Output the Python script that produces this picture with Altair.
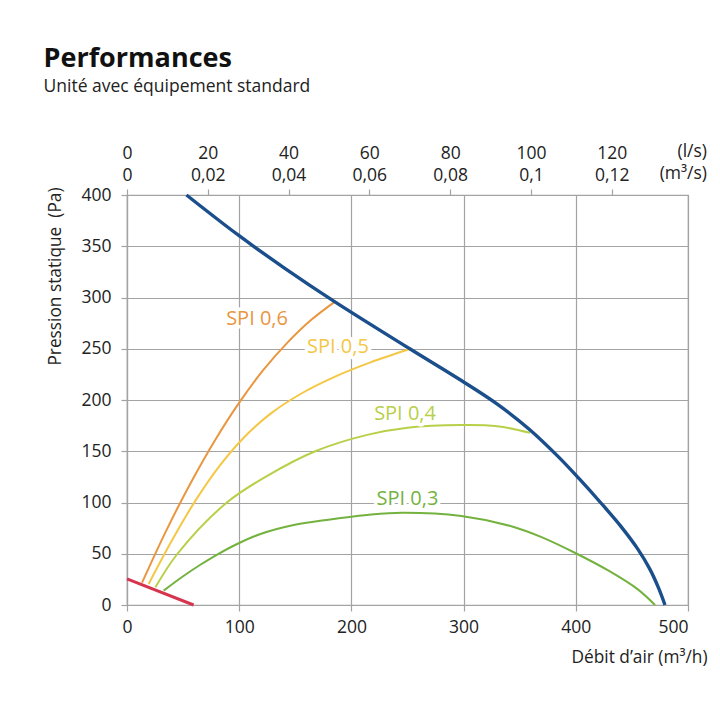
import altair as alt
import pandas as pd

# ---------------- data ----------------
# Fan curve, air flow (m³/h) vs static pressure (Pa)
fan_q = [53, 99, 140, 185, 252, 298, 330, 359, 385, 404, 422, 440, 455, 466, 474, 479.5]
fan_p = [400, 361, 329, 296, 250, 219, 196, 171, 144, 122, 100, 77, 55, 35, 16, 0]

# SPI iso-lines
spi06_q = [13.4, 35, 57, 79, 100, 121, 143, 164, 185.4]
spi06_p = [21.8, 72.6, 119.5, 161.7, 197.4, 228.6, 256, 278, 296]
spi05_q = [19.3, 40, 61, 82, 104, 128, 155, 185, 217, 252]
spi05_p = [20.5, 62.9, 101.8, 135, 163.2, 186.7, 206.1, 222.6, 236.7, 249.7]
spi04_q = [25.3, 45, 89, 125, 167.8, 214, 250, 298, 330, 359]
spi04_p = [17.2, 50, 100, 126, 150, 166, 173, 175.6, 174.5, 168]
spi03_q = [32.7, 50, 65, 80, 100, 119, 148.6, 178, 214, 245, 298, 344, 370, 400, 430, 455, 470.6]
spi03_p = [14, 28, 39, 49, 60.5, 69.3, 78, 83, 87.8, 90, 86.8, 76.4, 66, 50.5, 33, 15.5, 0]

# minimum line (red)
red_q = [0, 59.4]
red_p = [25.4, 0]

spi_names = ["SPI 0,6", "SPI 0,5", "SPI 0,4", "SPI 0,3"]
label_q = [115.9, 188, 247.8, 250]
label_p = [279.5, 251.7, 186, 103.9]

x_ticks = [0, 100, 200, 300, 400, 500]
y_ticks = [0, 50, 100, 150, 200, 250, 300, 350, 400]
top_ticks_ls = [0, 20, 40, 60, 80, 100, 120]
unit_lines = ["(l/s)", "(m³/s)"]

# ---------------- styles ----------------
spi_colors = ["#e9963f", "#f4c744", "#b7d047", "#74b23f"]
FAN_COLOR = "#1b4f8c"
RED_COLOR = "#d7354f"
GRID = "#a3a3a3"
TXT = "#222222"
FONT = "Open Sans"
W, H = 561, 410

# ---------------- tables ----------------
spi_series = [(spi06_q, spi06_p), (spi05_q, spi05_p), (spi04_q, spi04_p), (spi03_q, spi03_p)]
rows = []
for name, (qs, ps) in zip(spi_names, spi_series):
    for i, (q, p) in enumerate(zip(qs, ps)):
        rows.append({"series": name, "q": q, "p": p, "i": i})
spi_df = pd.DataFrame(rows)
fan_df = pd.DataFrame({"q": fan_q, "p": fan_p})
red_df = pd.DataFrame({"q": red_q, "p": red_p})
lab_df = pd.DataFrame({"series": spi_names, "q": label_q, "p": label_p})
top_df = pd.DataFrame({"ls": top_ticks_ls})
unit_df = pd.DataFrame({"k": [0]})

x_scale = alt.Scale(domain=[0, 500], nice=False, zero=False)
y_scale = alt.Scale(domain=[0, 400], nice=False)
color_scale = alt.Scale(domain=spi_names, range=spi_colors)

x_axis = alt.Axis(
    values=x_ticks, title="Débit d’air (m³/h)", grid=True,
    labelFlush=False,
    labelAlign={"condition": {"test": "datum.value == 500", "value": "right"}, "value": "center"},
    labelPadding=7,
    titleAnchor="end", titleAlign="right", titleX=580, titleY=52, titleBaseline="middle",
)
y_axis = alt.Axis(
    values=y_ticks, title="Pression statique\u00a0 (Pa)", grid=True,
    labelPadding=10,
    titleAngle=-90, titleX=-72, titleY=-8, titleAlign="right", titleBaseline="middle",
)

X = alt.X("q:Q", scale=x_scale, axis=x_axis)
Y = alt.Y("p:Q", scale=y_scale, axis=y_axis)

spi_lines = alt.Chart(spi_df).mark_line(strokeWidth=2, interpolate="catmull-rom").encode(
    x=X, y=Y, order="i:Q",
    color=alt.Color("series:N", scale=color_scale, legend=None),
)
red_line = alt.Chart(red_df).mark_line(strokeWidth=3, color=RED_COLOR).encode(x=X, y=Y)
fan_line = alt.Chart(fan_df).mark_line(strokeWidth=3.4, color=FAN_COLOR, interpolate="catmull-rom").encode(x=X, y=Y)

halo = alt.Chart(lab_df).mark_text(
    font=FONT, fontSize=20, stroke="white", strokeWidth=7, fill="white", strokeJoin="round"
).encode(x=X, y=Y, text="series:N")
labels = alt.Chart(lab_df).mark_text(font=FONT, fontSize=20).encode(
    x=X, y=Y, text="series:N",
    color=alt.Color("series:N", scale=color_scale, legend=None),
)

units = alt.Chart(unit_df).mark_text(
    text=unit_lines, font=FONT, fontSize=17.5, lineHeight=22,
    align="right", baseline="alphabetic", color=TXT,
).encode(x=alt.value(580), y=alt.value(-38))

main = alt.layer(spi_lines, red_line, fan_line, halo, labels, units)

top_axis = alt.Axis(
    orient="top", values=top_ticks_ls, grid=False, title=None,
    labelExpr="[format(datum.value, 'd'), replace(format(datum.value / 1000, '.2~f'), '.', ',')]",
    labelLineHeight=22, labelFlush=False, labelPadding=27,
)
top_layer = alt.Chart(top_df).mark_point(opacity=0).encode(
    x=alt.X("ls:Q", scale=alt.Scale(domain=[0, 500 / 3.6], nice=False, zero=False), axis=top_axis)
)

chart = alt.layer(main, top_layer).resolve_scale(x="independent").properties(
    width=W, height=H,
    autosize=alt.AutoSizeParams(type="none"),
    padding={"left": 127, "top": 195, "right": 32, "bottom": 115},
    title=alt.TitleParams(
        text="Performances", subtitle="Unité avec équipement standard",
        anchor="start", frame="group", dx=-83.5, offset=47,
        font=FONT, fontSize=27, fontWeight="bold", color="#111111",
        subtitleFont=FONT, subtitleFontSize=17.5, subtitleColor=TXT, subtitlePadding=5,
    ),
).configure_view(stroke=GRID, strokeWidth=1.2).configure_axis(
    labelFont=FONT, titleFont=FONT, labelFontSize=17.5, titleFontSize=17.3,
    titleFontWeight="normal", labelColor=TXT, titleColor=TXT,
    gridColor=GRID, gridWidth=1.2, domainColor=GRID, domainWidth=1.2,
    tickColor=GRID, tickWidth=1.2, tickSize=6,
)

chart.save("out.html", embed_options={"renderer": "svg", "actions": False})
